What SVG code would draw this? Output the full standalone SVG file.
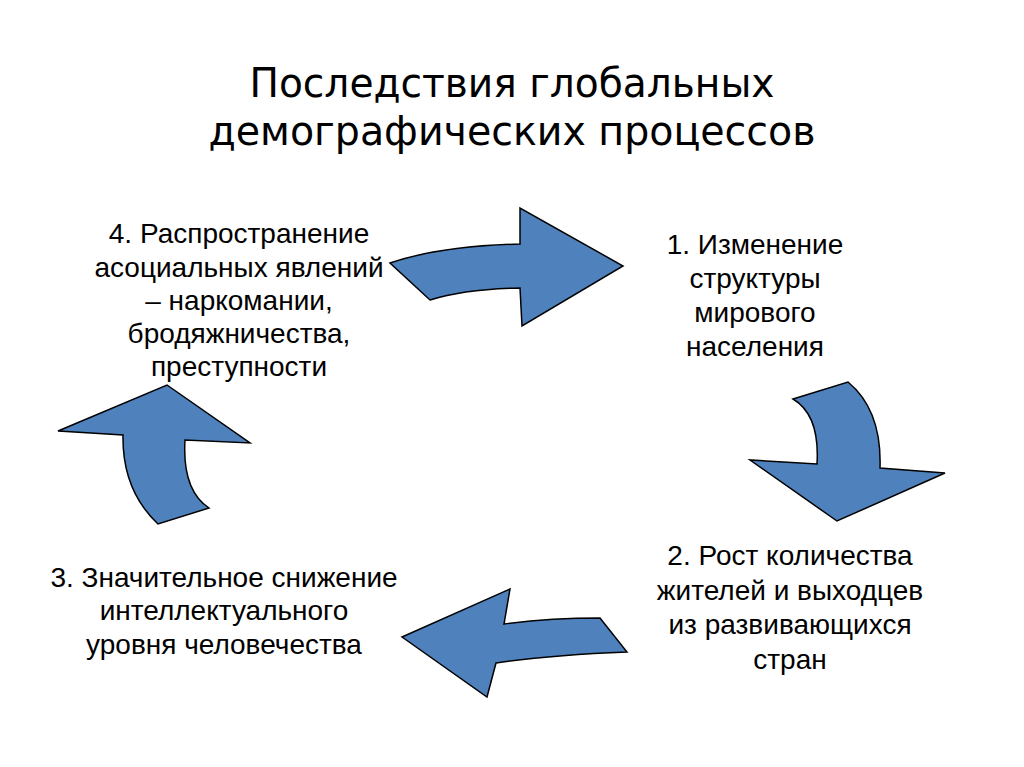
<svg xmlns="http://www.w3.org/2000/svg" width="1024" height="767" viewBox="0 0 1024 767">
<style>
.title{font-family:"DejaVu Sans Condensed","DejaVu Sans","Liberation Sans Narrow",sans-serif;font-size:40px;fill:#000;text-anchor:middle}
.t{font-family:"Liberation Sans",Arial,sans-serif;font-size:28px;fill:#000;text-anchor:middle}
.arr{fill:#4F81BD;stroke:#000;stroke-width:1.5;stroke-linejoin:miter}
</style>
<rect width="1024" height="767" fill="#fff"/>
<g id="title">
<text class="title" x="512" y="97" textLength="525" lengthAdjust="spacingAndGlyphs">Последствия глобальных</text>
<text class="title" x="512" y="145" textLength="607" lengthAdjust="spacingAndGlyphs">демографических процессов</text>
</g>
<g id="connectors">
<path id="arrow-4-1" class="arr" d="M390,263 Q440,246 520,244 L520,208 L623,266 L522,326 L520,288 Q465,289 430,300 Z"/>
<path id="arrow-1-2" class="arr" d="M793,399 L848,382 Q882,410 880,468 L945,473 L837,521 L750,460 L817,464 Q820,415 793,399 Z"/>
<path id="arrow-2-3" class="arr" d="M402,637 L510,589 L504,624 Q550,618 600,618 L627,652 Q550,655 496,663 L487,697 Z"/>
<path id="arrow-3-4" class="arr" d="M167,385 L250,443 L185,440 Q182,490 209,508 L158,524 Q122,490 123,435 L58,431 Z"/>
</g>
<g id="node-1">
<text class="t" x="755" y="254">1. Изменение</text>
<text class="t" x="755" y="288">структуры</text>
<text class="t" x="755" y="322">мирового</text>
<text class="t" x="755" y="356">населения</text>
</g>
<g id="node-2">
<text class="t" x="790" y="565">2. Рост количества</text>
<text class="t" x="790" y="600">жителей и выходцев</text>
<text class="t" x="790" y="634">из развивающихся</text>
<text class="t" x="790" y="669">стран</text>
</g>
<g id="node-3">
<text class="t" x="224" y="587">3. Значительное снижение</text>
<text class="t" x="224" y="620">интеллектуального</text>
<text class="t" x="224" y="654">уровня человечества</text>
</g>
<g id="node-4">
<text class="t" x="239" y="243">4. Распространение</text>
<text class="t" x="239" y="277">асоциальных явлений</text>
<text class="t" x="239" y="310">– наркомании,</text>
<text class="t" x="239" y="343">бродяжничества,</text>
<text class="t" x="239" y="376">преступности</text>
</g>
</svg>
